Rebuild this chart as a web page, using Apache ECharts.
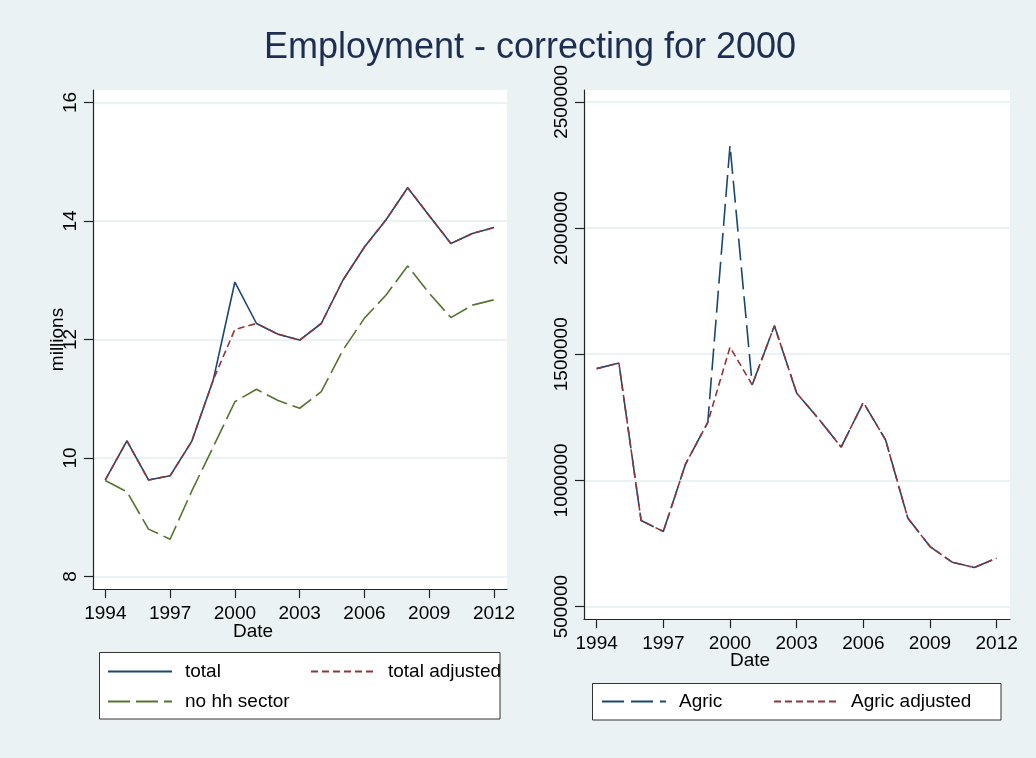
<!DOCTYPE html>
<html>
<head>
<meta charset="utf-8">
<script src="https://cdn.jsdelivr.net/npm/echarts@6/dist/echarts.min.js"></script>
<style>
  html, body { margin: 0; padding: 0; background: #eaf2f3; }
  #chart { width: 1036px; height: 758px; }
</style>
</head>
<body>
<div id="chart"></div>
<script>
// data
const years = [1994, 1995, 1996, 1997, 1998, 1999, 2000, 2001, 2002, 2003, 2004, 2005, 2006, 2007, 2008, 2009, 2010, 2011, 2012];
const total = [9.63, 10.29, 9.63, 9.70, 10.28, 11.32, 12.97, 12.27, 12.09, 11.99, 12.27, 13.00, 13.56, 14.02, 14.56, 14.09, 13.62, 13.79, 13.89];
const totalAdj = [9.63, 10.29, 9.63, 9.70, 10.28, 11.32, 12.17, 12.27, 12.09, 11.99, 12.27, 13.00, 13.56, 14.02, 14.56, 14.09, 13.62, 13.79, 13.89];
const noHH = [9.62, 9.43, 8.80, 8.63, 9.44, 10.19, 10.95, 11.16, 10.97, 10.84, 11.12, 11.82, 12.36, 12.75, 13.24, 12.78, 12.37, 12.58, 12.67];
const agric = [1443000, 1465000, 841000, 798000, 1065000, 1230000, 2327000, 1379000, 1613000, 1346000, 1243000, 1132000, 1309000, 1161000, 851000, 738000, 676000, 655000, 692000];
const agricAdj = [1443000, 1465000, 841000, 798000, 1065000, 1230000, 1528000, 1379000, 1613000, 1346000, 1243000, 1132000, 1309000, 1161000, 851000, 738000, 676000, 655000, 692000];

const yearTicks = [1994, 1997, 2000, 2003, 2006, 2009, 2012];
const leftTicks = [8, 10, 12, 14, 16];
const rightTicks = [500000, 1000000, 1500000, 2000000, 2500000];

const NAVY = '#1a476f', MAROON = '#90353b', GREEN = '#55752f';
const BG = '#eaf2f3';
const FONT = 'Liberation Sans, Arial, sans-serif';

function pairs(vals) {
  return years.map((y, i) => [y, vals[i]]);
}

// plain numbers, no thousands separators
function plain(v) {
  return String(v);
}

function xAxisFor(gridIndex) {
  return {
    type: 'value', gridIndex: gridIndex,
    min: 1993.43, max: 2012.6,
    axisLine: { show: true, lineStyle: { color: '#222', width: 1.2 } },
    axisTick: { show: true, length: 9, customValues: yearTicks, lineStyle: { color: '#222', width: 1.2 } },
    axisLabel: { customValues: yearTicks, formatter: plain, fontSize: 19, color: '#000', fontFamily: FONT, margin: 15 },
    splitLine: { show: false }
  };
}

function yAxisFor(gridIndex, min, max, ticks, name) {
  return {
    type: 'value', gridIndex: gridIndex,
    min: min, max: max,
    name: name, nameLocation: 'middle', nameGap: 26, nameRotate: 90, nameMoveOverlap: false,
    nameTextStyle: { fontSize: 19, color: '#000', fontFamily: FONT },
    axisLine: { show: true, lineStyle: { color: '#222', width: 1.2 } },
    axisTick: { show: true, length: 9, customValues: ticks, lineStyle: { color: '#222', width: 1.2 } },
    axisLabel: { customValues: ticks, formatter: plain, rotate: 90, fontSize: 19, color: '#000', fontFamily: FONT, margin: 13 },
    splitLine: { show: true, lineStyle: { color: BG, width: 2 } }
  };
}

function lineSeries(name, vals, color, dash, xi) {
  return {
    name: name, type: 'line', xAxisIndex: xi, yAxisIndex: xi,
    data: pairs(vals), symbol: 'none', showSymbol: false, silent: true,
    lineStyle: { color: color, width: 1.6, type: dash },
    itemStyle: { color: color }
  };
}

function legendFor(name, left, top) {
  return {
    data: [name], left: left, top: top, padding: 0,
    itemWidth: 64, itemHeight: 20, z: 5,
    itemStyle: { opacity: 0 },
    textStyle: { fontSize: 19, color: '#000', fontFamily: FONT, padding: [0, 0, 0, 8] },
    selectedMode: false
  };
}

const chart = echarts.init(document.getElementById('chart'));
chart.setOption({
  backgroundColor: BG,
  animation: false,
  grid: [
    { left: 93, top: 90, width: 414, height: 499, show: true, backgroundColor: '#fff', borderWidth: 0, outerBoundsMode: 'none' },
    { left: 584, top: 90, width: 426, height: 529, show: true, backgroundColor: '#fff', borderWidth: 0, outerBoundsMode: 'none' }
  ],
  xAxis: [xAxisFor(0), xAxisFor(1)],
  yAxis: [
    yAxisFor(0, 7.79, 16.21, leftTicks, 'millions'),
    yAxisFor(1, 451000, 2547000, rightTicks, '')
  ],
  legend: [
    legendFor('total', 107, 662),
    legendFor('total adjusted', 310, 662),
    legendFor('no hh sector', 107, 692),
    legendFor('Agric', 601, 692),
    legendFor('Agric adjusted', 773, 692)
  ],
  graphic: [
    { type: 'text', x: 530, y: 48, z: 10,
      style: { text: 'Employment - correcting for 2000', fontSize: 36, fill: '#1e2d52', fontFamily: FONT, align: 'center', verticalAlign: 'middle' } },
    { type: 'text', x: 253, y: 632, z: 10,
      style: { text: 'Date', fontSize: 19, fill: '#000', fontFamily: FONT, align: 'center', verticalAlign: 'middle' } },
    { type: 'text', x: 750, y: 661, z: 10,
      style: { text: 'Date', fontSize: 19, fill: '#000', fontFamily: FONT, align: 'center', verticalAlign: 'middle' } },
    { type: 'rect', z: 1, shape: { x: 99.5, y: 652.5, width: 400.5, height: 66.5 },
      style: { fill: '#fff', stroke: '#333', lineWidth: 1 } },
    { type: 'rect', z: 1, shape: { x: 592.5, y: 683.5, width: 408.5, height: 36.5 },
      style: { fill: '#fff', stroke: '#333', lineWidth: 1 } }
  ],
  series: [
    lineSeries('total', total, NAVY, 'solid', 0),
    lineSeries('total adjusted', totalAdj, MAROON, [7, 4], 0),
    lineSeries('no hh sector', noHH, GREEN, [22, 6], 0),
    lineSeries('Agric', agric, NAVY, [22, 7], 1),
    lineSeries('Agric adjusted', agricAdj, MAROON, [7, 4], 1)
  ]
});
</script>
</body>
</html>
